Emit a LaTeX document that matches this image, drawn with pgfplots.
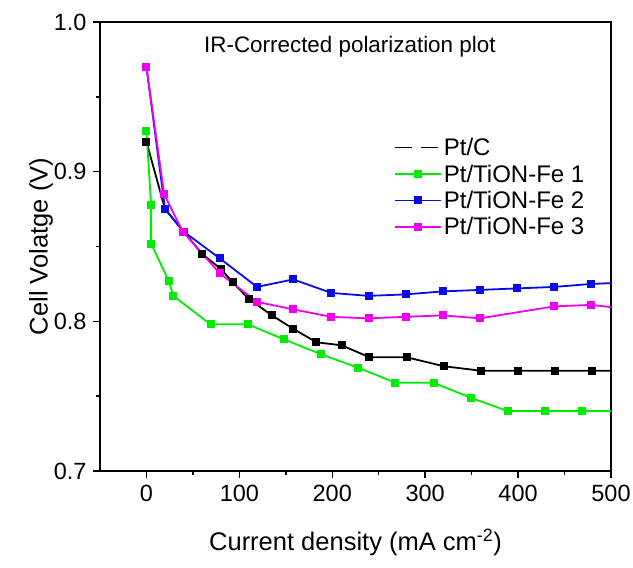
\documentclass[border=0pt]{standalone}
\usepackage{pgfplots}
\pgfplotsset{compat=1.18}
\usepackage{fontspec}
\setmainfont{Liberation Sans}
\definecolor{lgreen}{RGB}{0,235,0}
\definecolor{lblue}{RGB}{10,10,230}
\definecolor{lpink}{RGB}{240,0,240}
\begin{document}
\begin{tikzpicture}
\begin{axis}[
  name=ax,
  scale only axis,
  width=511pt, height=449pt,
  xmin=-50, xmax=500, ymin=0.7, ymax=1.0,
  xtick={0,100,...,500}, ytick={0.7,0.8,0.9,1.0},
  minor x tick num=1, minor y tick num=1,
  tick pos=left, tick align=outside,
  major tick length=7pt, minor tick length=4pt,
  every tick/.style={black, line width=1.5pt},
  axis line style={line width=1.6pt},
  yticklabel style={/pgf/number format/fixed, /pgf/number format/fixed zerofill, /pgf/number format/precision=1},
  /pgf/number format/assume math mode=true,
  tick label style={font=\fontsize{23.5}{27}\selectfont},
  xticklabel style={yshift=-4pt},
  yticklabel style={xshift=-3pt},
  xlabel={Current density (mA cm\textsuperscript{-2})},
  ylabel={Cell Volatge (V)},
  label style={font=\fontsize{25.5}{30}\selectfont},
  xlabel style={yshift=-20pt},
  ylabel style={yshift=-6pt},
  every axis plot/.append style={line width=1.8pt, mark=square*, mark size=3.1pt},
  legend cell align=left,
  legend style={draw=none, fill=none, at={(rel axis cs:0.575,0.746)}, anchor=north west,
    font=\fontsize{24}{28}\selectfont, row sep=3.5pt, inner sep=0pt},
  legend image code/.code={\draw[mark repeat=2, mark phase=2] plot coordinates {(0pt,0pt) (23pt,0pt) (46pt,0pt)};},
]
\addplot[black, mark options={fill=black}, forget plot] coordinates {
(0,0.920) (20,0.875) (40,0.860) (60,0.845) (80,0.835) (93,0.826) (110,0.815)
(135,0.804) (158,0.795) (183,0.786) (210,0.784) (240,0.776) (280,0.776)
(320,0.770) (360,0.767) (400,0.767) (440,0.767) (480,0.767) (520,0.767)};
\addlegendimage{black, line width=1.4pt, dash pattern=on 17pt off 9pt,
  legend image code/.code={\draw (0pt,0pt) -- (46pt,0pt);}}
\addlegendentry{Pt/C}
\addplot[lgreen, mark options={fill=lgreen}] coordinates {
(0,0.927) (5,0.878) (5,0.852) (24,0.827) (29,0.817) (69,0.798) (109,0.798)
(148,0.788) (188,0.778) (228,0.769) (268,0.759) (309,0.759) (349,0.749)
(389,0.740) (429,0.740) (469,0.740) (520,0.740)};
\addlegendentry{Pt/TiON-Fe 1}
\addplot[lblue, mark options={fill=lblue}] coordinates {
(0,0.970) (20,0.875) (40,0.860) (79,0.842) (119,0.823) (158,0.828) (199,0.819)
(239,0.817) (279,0.818) (319,0.820) (359,0.821) (399,0.822) (439,0.823)
(479,0.825) (520,0.826)};
\addlegendentry{Pt/TiON-Fe 2}
\addplot[lpink, mark options={fill=lpink}] coordinates {
(0,0.970) (19,0.885) (39,0.860) (79,0.832) (119,0.813) (158,0.808) (199,0.803)
(239,0.802) (279,0.803) (319,0.804) (359,0.802) (439,0.810) (479,0.811)
(520,0.808)};
\addlegendentry{Pt/TiON-Fe 3}
\node[font=\fontsize{22.4}{26}\selectfont] at (rel axis cs:0.489,0.944) {IR-Corrected polarization plot};
\end{axis}
\pgfresetboundingbox
\path ([shift={(-100pt,-96pt)}]ax.south west) rectangle ([shift={(22pt,22pt)}]ax.north east);
\end{tikzpicture}
\end{document}
